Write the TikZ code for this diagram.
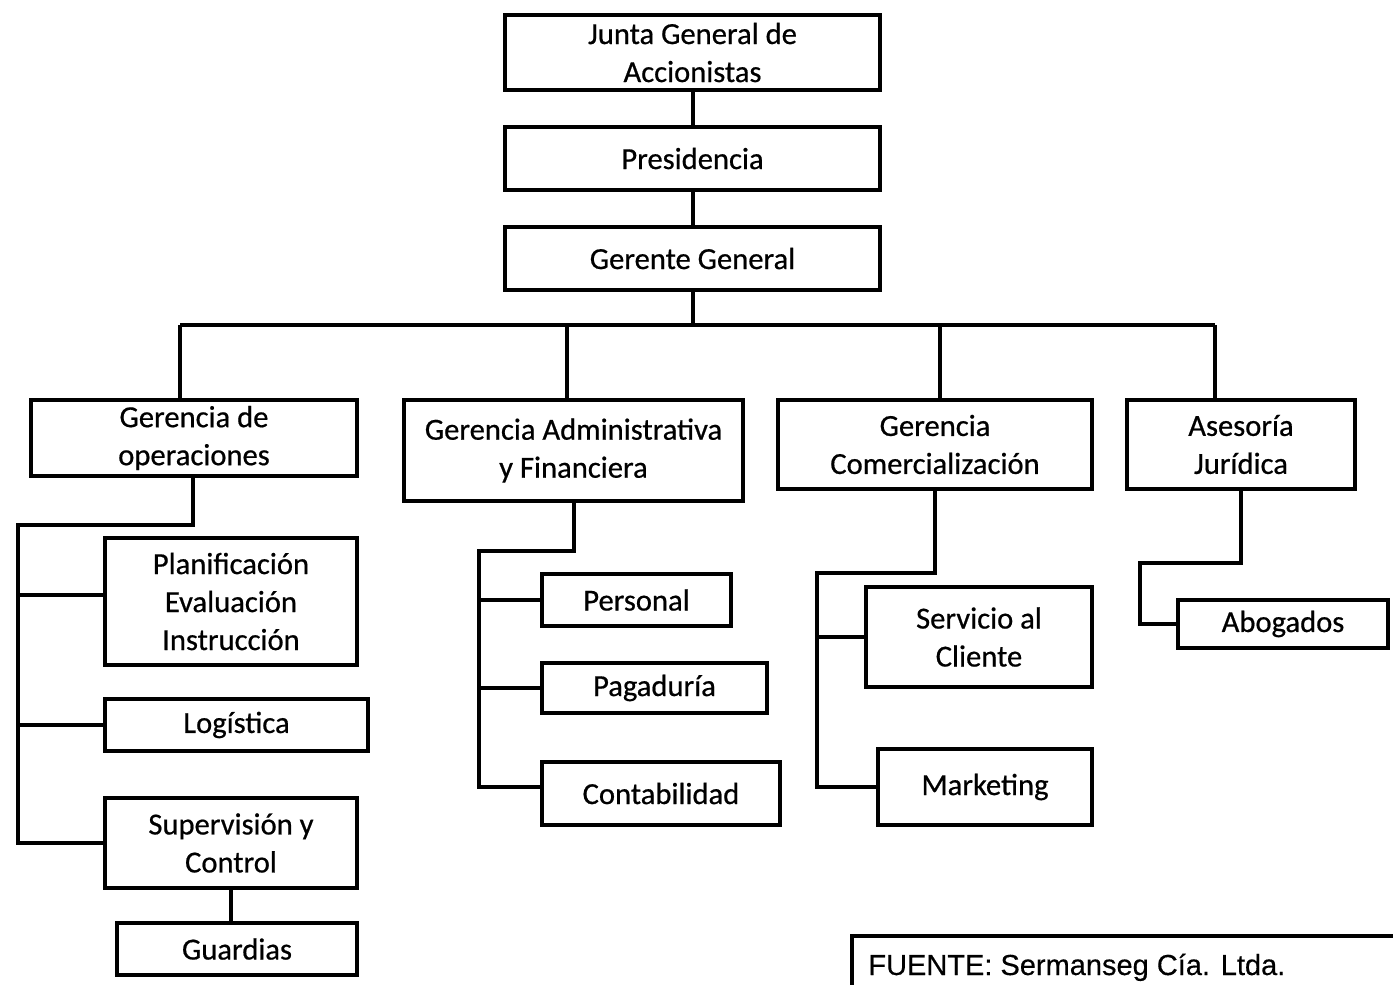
\documentclass[tikz,border=0pt]{standalone}
\usepackage{fontspec}
\setmainfont[FakeBold=0.6]{Carlito}
\newfontfamily\srcfont[FakeBold=0.4]{Liberation Sans}
\begin{document}
\begin{tikzpicture}[x=0.5pt,y=-0.5pt,
  orgbox/.style 2 args={draw, line width=1.8pt, minimum width=#1*0.5pt,
    minimum height=#2*0.5pt, inner sep=0pt, align=center,
    font=\fontsize{15.3}{19}\selectfont},
  wire/.style={line width=2pt, line join=miter}]
\useasboundingbox (0,0) rectangle (1393,985);

% top of the hierarchy
\node[orgbox={375}{75}] (junta) at (692.5,52.5) {Junta General de\\Accionistas};
\node[orgbox={375}{63}] (pres)  at (692.5,158.5) {Presidencia};
\node[orgbox={375}{63}] (gg)    at (692.5,258.5) {Gerente General};

% management level
\node[orgbox={326}{76}]  (ops) at (194,438)    {Gerencia de\\operaciones};
\node[orgbox={339}{101}] (adm) at (573.5,450.5) {Gerencia Administrativa\\y Financiera};
\node[orgbox={314}{89}]  (com) at (935,444.5)  {Gerencia\\Comercialización};
\node[orgbox={228}{89}]  (ase) at (1241,444.5) {Asesoría\\Jurídica};

% operations
\node[orgbox={252}{127}] (plan) at (231,601.5) {Planificación\\Evaluación\\Instrucción};
\node[orgbox={263}{52}]  (log)  at (236.5,725)  {Logística};
\node[orgbox={252}{90}]  (sup)  at (231,843)    {Supervisión y\\Control};
\node[orgbox={240}{52}]  (guar) at (237,949)    {Guardias};

% administration and finance
\node[orgbox={189}{52}] (pers) at (636.5,600)  {Personal};
\node[orgbox={225}{50}] (pag)  at (654.5,688)  {Pagaduría};
\node[orgbox={238}{63}] (cont) at (661,793.5)  {Contabilidad};

% commercial
\node[orgbox={226}{100}] (serv) at (979,637) {Servicio al\\Cliente};
\node[orgbox={214}{76}]  (mark) at (985,787) {Marketing};

% legal
\node[orgbox={210}{48}] (abog) at (1283,624) {Abogados};

% connectors of the upper chain
\draw[wire] (junta) -- (pres);
\draw[wire] (pres) -- (gg);
\coordinate (busL) at (180,325);
\coordinate (busA) at (567,325);
\coordinate (busC) at (940,325);
\coordinate (busR) at (1215,325);
\draw[wire] (gg.south) -- (gg.south |- busL);
\draw[wire] (busL) -- (busR);
\draw[wire] (busL) -- (busL |- ops.north);
\draw[wire] (busA) -- (busA |- adm.north);
\draw[wire] (busC) -- (busC |- com.north);
\draw[wire] (busR) -- (busR |- ase.north);

% operations branch
\coordinate (oK) at (193,525);
\coordinate (oT) at (18,525);
\coordinate (oP) at (18,595);
\draw[wire] (oK |- ops.south) -- (oK) -- (oT) |- (sup.west);
\draw[wire] (oP) -- (oP -| plan.west);
\draw[wire] (oT |- log.west) -- (log.west);
\draw[wire] (sup.south) -- (sup.south |- guar.north);

% administration branch
\coordinate (aT) at (479,551);
\coordinate (aB) at (479,787);
\draw[wire] (adm.south) -- (adm.south |- aT) -- (aT) -- (aB) -- (aB -| cont.west);
\draw[wire] (aT |- pers.west) -- (pers.west);
\draw[wire] (aT |- pag.west) -- (pag.west);

% commercial branch
\coordinate (cT) at (817,573);
\draw[wire] (com.south) -- (com.south |- cT) -- (cT) |- (mark.west);
\draw[wire] (cT |- serv.west) -- (serv.west);

% legal branch
\coordinate (jT) at (1140,563);
\draw[wire] (ase.south) -- (ase.south |- jT) -- (jT) |- (abog.west);

% source note
\coordinate (fTL) at (852,936);
\draw[line width=1.6pt] (1393,936) -- (fTL) -- (852,985);
\node[anchor=base west, inner sep=0pt, font=\srcfont\fontsize{14.5}{16}\selectfont]
  (src) at (868,975) {FUENTE: Sermanseg Cía. Ltda.};
\end{tikzpicture}
\end{document}
